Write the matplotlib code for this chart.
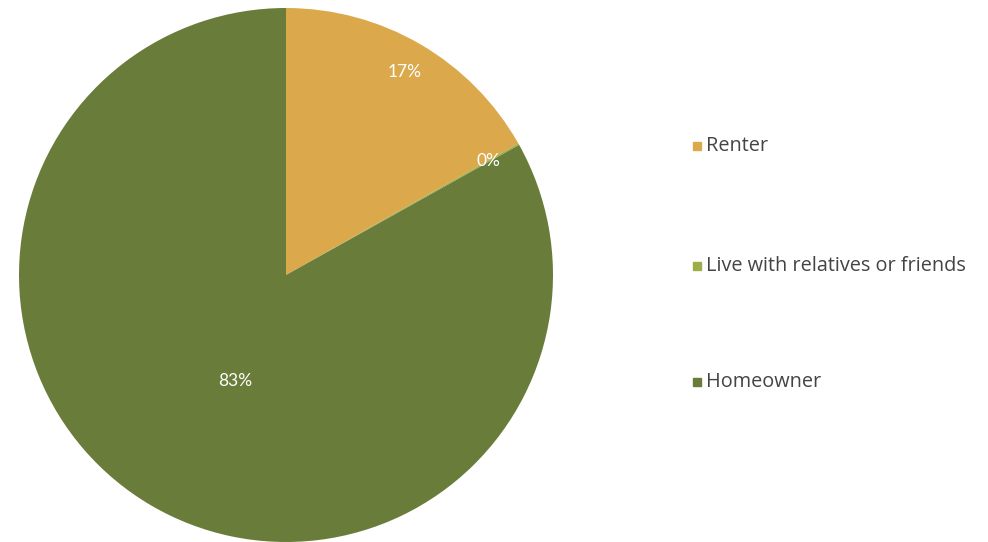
import numpy as np
import matplotlib.pyplot as plt
from matplotlib.patches import Rectangle

# Data
labels = ["Renter", "Live with relatives or friends", "Homeowner"]
values = [16.8, 0.1, 83.1]
pct_labels = ["17%", "0%", "83%"]
colors = ["#DBA94B", "#9DAE48", "#6A7C3A"]

fig = plt.figure(figsize=(9.88, 5.42), dpi=100)
W, H = 988, 542
cx, cy, r = 286, 275, 267
ax = fig.add_axes([(cx - r) / W, (H - cy - r) / H, 2 * r / W, 2 * r / H])

wedges, _ = ax.pie(values, colors=colors, startangle=90, counterclock=False,
                   radius=1, wedgeprops=dict(linewidth=0))
ax.set_xlim(-1, 1)
ax.set_ylim(-1, 1)
ax.set_aspect("equal")
ax.axis("off")

# percentage labels placed at different radii like the original
label_dist = [0.88, 0.87, 0.44]
label_shift = [0, 0, 5]
for w, txt, d, s in zip(wedges, pct_labels, label_dist, label_shift):
    if txt == "0%":
        ang = np.deg2rad(w.theta2)
    else:
        ang = np.deg2rad((w.theta1 + w.theta2) / 2 + s)
    ax.text(d * np.cos(ang), d * np.sin(ang), txt, color="white",
            ha="center", va="center", fontsize=12.5, family="Lato")

# legend drawn by hand
leg_y = [146, 266, 382]
for lab, col, y in zip(labels, colors, leg_y):
    fig.patches.append(Rectangle((693 / W, (H - y - 4) / H), 8 / W, 8 / H,
                                 transform=fig.transFigure, color=col))
    fig.text(706 / W, (H - y) / H, lab, ha="left", va="center",
             fontsize=14.3, color="#444444", family="Open Sans")

fig.savefig("out.png", dpi=100)
